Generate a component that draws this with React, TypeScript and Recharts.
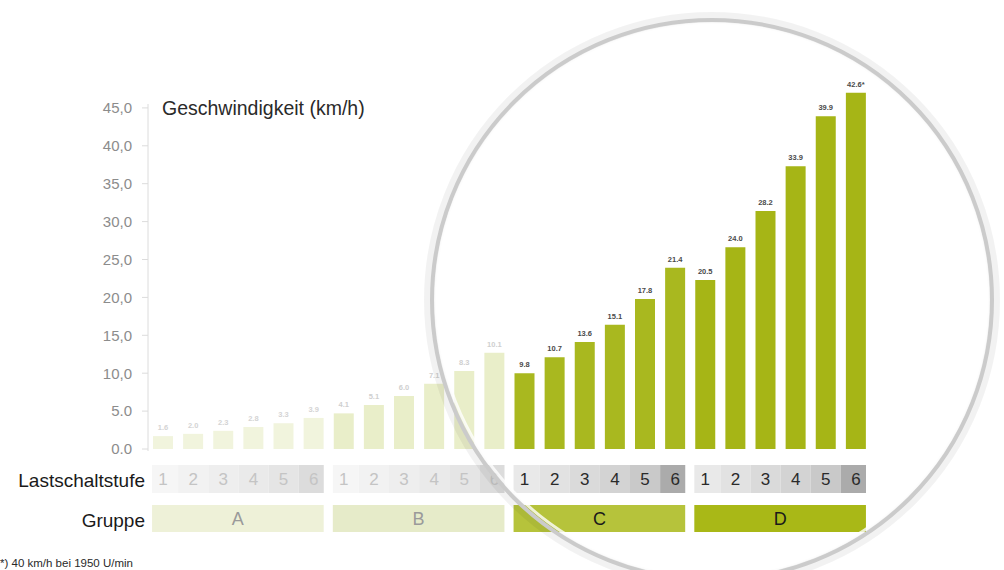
import React from "react";
import { Bar, BarChart, Cell, LabelList, XAxis, YAxis } from "recharts";

// Gruppe / Lastschaltstufe
const groups = ["A", "B", "C", "D"];
const stages = ["1", "2", "3", "4", "5", "6"];

// bar heights read against the axis
const speedA = [1.7, 2.0, 2.4, 2.9, 3.4, 4.1];
const speedB = [4.7, 5.8, 7.0, 8.6, 10.3, 12.7];
const speedC = [10.0, 12.1, 14.1, 16.4, 19.8, 23.9];
const speedD = [22.3, 26.6, 31.4, 37.3, 43.9, 47.0];

// printed value labels
const labelsA = ["1.6", "2.0", "2.3", "2.8", "3.3", "3.9"];
const labelsB = ["4.1", "5.1", "6.0", "7.1", "8.3", "10.1"];
const labelsC = ["9.8", "10.7", "13.6", "15.1", "17.8", "21.4"];
const labelsD = ["20.5", "24.0", "28.2", "33.9", "39.9", "42.6*"];

const yTicks = [0, 5, 10, 15, 20, 25, 30, 35, 40, 45];
const yTickLabels = ["0.0", "5.0", "10,0", "15,0", "20,0", "25,0", "30,0", "35,0", "40,0", "45,0"];

const speeds = [speedA, speedB, speedC, speedD];
const labels = [labelsA, labelsB, labelsC, labelsD];

const data = groups.flatMap((g, gi) =>
  stages.map((s, si) => ({
    key: g + s,
    group: gi,
    stage: si,
    speed: speeds[gi][si],
    label: labels[gi][si],
  }))
);

const W = 1004;
const H = 570;
const X_AXIS_H = 30;
const M = { top: 70, right: 133, bottom: 121 - X_AXIS_H, left: 0 };
const Y_AXIS_W = 148;
const BAND = (W - M.right - Y_AXIS_W) / data.length;

const barFill = ["#f1f4dd", "#e9eec9", "#a9b81f", "#a6b516"];
const labelFill = ["#d4d4d4", "#cfcfcf", "#4a4a4a", "#4a4a4a"];
const groupFill = ["#eef1d8", "#e6ebc9", "#b6c33b", "#a9b817"];
const groupText = ["#9a9a9a", "#9a9a9a", "#1a1a1a", "#1a1a1a"];
const stageText = ["#c4c4c4", "#c4c4c4", "#2a2a2a", "#2a2a2a"];
const stageShadeFaded = ["#f6f6f6", "#f2f2f2", "#eeeeee", "#eaeaea", "#e5e5e5", "#dcdcdc"];
const stageShade = ["#e9e9e9", "#e2e2e2", "#dadada", "#d3d3d3", "#c9c9c9", "#ababab"];

const FONT = "'Liberation Sans', Arial, Helvetica, sans-serif";

function StageTick(props: any) {
  const { x, y, payload } = props;
  const d = data.find((r) => r.key === payload.value);
  if (!d) return null;
  const faded = d.group < 2;
  const left = x - BAND / 2 - (d.stage === 0 ? -4 : 0);
  const right = x + BAND / 2 - (d.stage === 5 ? 5 : 0);
  const boxLeft = x - 11;
  const boxW = 5 * BAND + 21;
  return (
    <g>
      <rect
        x={d.stage === 0 ? boxLeft : left}
        y={y + 16}
        width={right - (d.stage === 0 ? boxLeft : left)}
        height={28}
        fill={(faded ? stageShadeFaded : stageShade)[d.stage]}
      />
      <text
        x={x}
        y={y + 36}
        textAnchor="middle"
        fontSize={17}
        fontFamily={FONT}
        fill={stageText[d.group]}
      >
        {stages[d.stage]}
      </text>
      {d.stage === 0 && (
        <g>
          <rect x={boxLeft} y={y + 56} width={boxW} height={27} fill={groupFill[d.group]} />
          <text
            x={boxLeft + boxW / 2}
            y={y + 76}
            textAnchor="middle"
            fontSize={18}
            fontFamily={FONT}
            fill={groupText[d.group]}
          >
            {groups[d.group]}
          </text>
        </g>
      )}
    </g>
  );
}

function ValueLabel(props: any) {
  const { x, y, width, index } = props;
  const d = data[index];
  if (!d) return null;
  return (
    <text
      x={x + width / 2}
      y={y - 6}
      textAnchor="middle"
      fontSize={7.5}
      fontWeight="bold"
      fontFamily={FONT}
      fill={labelFill[d.group]}
    >
      {d.label}
    </text>
  );
}

export default function App() {
  return (
    <div style={{ position: "relative", width: W, height: H, background: "#fff", fontFamily: FONT }}>
      <style>{`body{margin:0}`}</style>
      <BarChart width={W} height={H} data={data} margin={M} barCategoryGap={0}>
        <XAxis
          dataKey="key"
          height={X_AXIS_H}
          axisLine={false}
          tickLine={false}
          tickSize={0}
          tickMargin={0}
          interval={0}
          tick={<StageTick />}
        />
        <YAxis
          width={Y_AXIS_W}
          domain={[0, 50]}
          ticks={yTicks}
          interval={0}
          axisLine={false}
          tickLine={{ stroke: "#dcdcdc" }}
          tickSize={6}
          tickMargin={10}
          tickFormatter={(v: number) => yTickLabels[yTicks.indexOf(v)] ?? String(v)}
          tick={{ fontSize: 15, fill: "#8c8c8c", fontFamily: FONT }}
        />
        <Bar dataKey="speed" barSize={20} isAnimationActive={false}>
          {data.map((d) => (
            <Cell key={d.key} fill={barFill[d.group]} />
          ))}
          <LabelList dataKey="speed" content={<ValueLabel />} />
        </Bar>
      </BarChart>
      <svg
        width={W}
        height={H}
        style={{ position: "absolute", left: 0, top: 0, pointerEvents: "none" }}
      >
        <line x1={148} y1={104} x2={148} y2={451} stroke="#dcdcdc" strokeWidth={1} />
        <text x={162} y={115} fontSize={19.5} fill="#2a2a2a" fontFamily={FONT}>
          Geschwindigkeit (km/h)
        </text>
        <text x={145} y={487} textAnchor="end" fontSize={19} fill="#1a1a1a" fontFamily={FONT}>
          Lastschaltstufe
        </text>
        <text x={145} y={527} textAnchor="end" fontSize={19} fill="#1a1a1a" fontFamily={FONT}>
          Gruppe
        </text>
        <text x={0} y={567} fontSize={11.5} fill="#2a2a2a" fontFamily={FONT}>
          *) 40 km/h bei 1950 U/min
        </text>
        <circle cx={712} cy={300} r={282} fill="none" stroke="rgba(0,0,0,0.05)" strokeWidth={12} />
        <circle cx={712} cy={300} r={280} fill="none" stroke="#cbcbcb" strokeWidth={4} />
        <circle cx={712} cy={300} r={276} fill="none" stroke="rgba(255,255,255,0.8)" strokeWidth={3} />
      </svg>
    </div>
  );
}
